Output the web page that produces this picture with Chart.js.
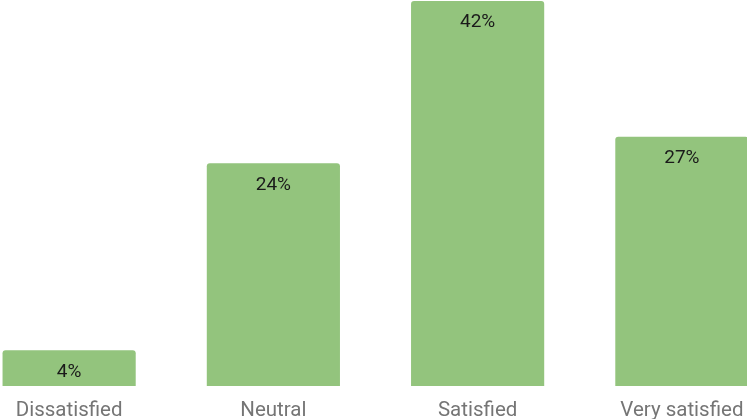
<!DOCTYPE html>
<html>
<head>
<meta charset="utf-8">
<script src="https://cdn.jsdelivr.net/npm/chart.js@4"></script>
<style>
  html, body { margin: 0; padding: 0; background: #fff; overflow: hidden; }
  #wrap { position: relative; width: 747px; height: 419px; overflow: hidden; }
  #c { position: absolute; left: -33px; top: 0; }
</style>
</head>
<body>
<div id="wrap"><canvas id="c" width="817" height="419"></canvas></div>
<script>
const categories = ["Dissatisfied", "Neutral", "Satisfied", "Very satisfied"];
const shares = [3.9, 24.3, 42, 27.2];
const valueLabels = ["4%", "24%", "42%", "27%"];

const barLabelPlugin = {
  id: 'barLabels',
  afterDatasetsDraw(chart) {
    const ctx = chart.ctx;
    const meta = chart.getDatasetMeta(0);
    ctx.save();
    ctx.font = '19px Roboto';
    ctx.fillStyle = '#1a1a1a';
    ctx.textAlign = 'center';
    ctx.textBaseline = 'middle';
    meta.data.forEach((bar, i) => {
      ctx.fillText(valueLabels[i], bar.x, bar.y + 21.5);
    });
    ctx.restore();
  }
};

new Chart(document.getElementById('c'), {
  type: 'bar',
  data: {
    labels: categories,
    datasets: [{
      data: shares,
      backgroundColor: '#93C47D',
      borderRadius: 3,
      borderSkipped: 'bottom',
      barPercentage: 0.652,
      categoryPercentage: 1.0
    }]
  },
  options: {
    responsive: false,
    animation: false,
    layout: { padding: { top: 1, left: 0, right: 0, bottom: 0 } },
    plugins: { legend: { display: false }, tooltip: { enabled: false } },
    scales: {
      y: { display: false, min: 0, max: 42 },
      x: {
        grid: { display: false, drawTicks: false },
        border: { display: false },
        afterFit(scale) { scale.height = 33; },
        ticks: { color: '#757575', font: { family: 'Roboto', size: 20.5, lineHeight: 1 }, padding: 15, maxRotation: 0, autoSkip: false }
      }
    }
  },
  plugins: [barLabelPlugin]
});
</script>
</body>
</html>
